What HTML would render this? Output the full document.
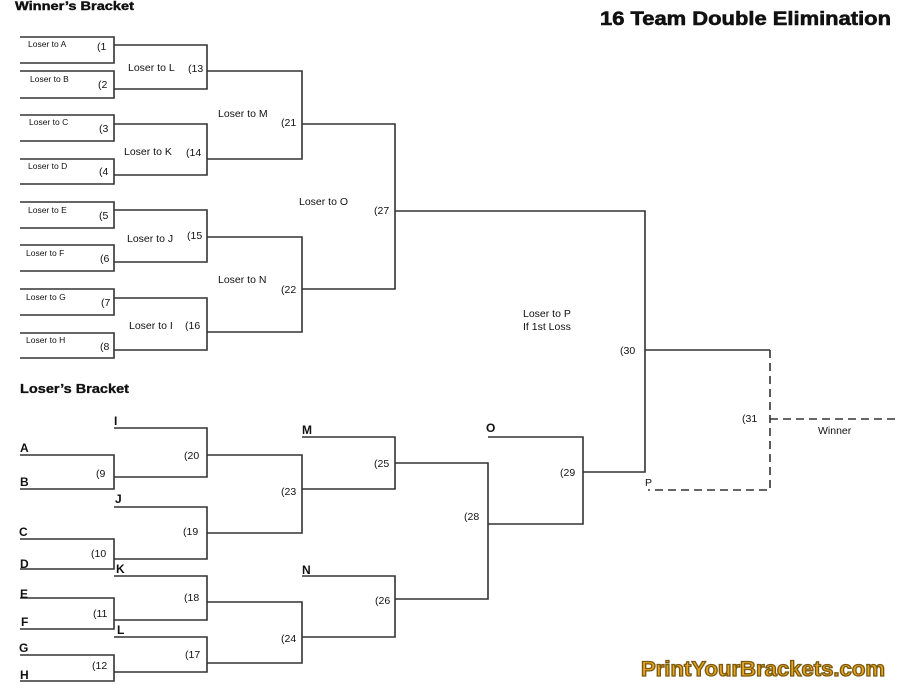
<!DOCTYPE html>
<html><head><meta charset="utf-8"><style>
html,body{margin:0;padding:0;background:#fff;}
svg{display:block;}
text{font-family:"Liberation Sans",Arial,sans-serif;fill:#111;}
.s{font-size:8.5px;}
.m{font-size:10.5px;}
.b{font-size:12px;font-weight:bold;}
</style></head><body>
<svg width="900" height="700" viewBox="0 0 900 700" xmlns="http://www.w3.org/2000/svg">
<g stroke="#333" stroke-width="1.6" fill="none">
<path d="M20 37H114V63H20 M20 71H114V98H20 M20 115H114V141H20 M20 159H114V184H20 M20 202H114V228H20 M20 245H114V271H20 M20 289H114V315H20 M20 333H114V358H20"/>
<path d="M114 45H207V89H114 M114 124H207V175H114 M114 210H207V262H114 M114 298H207V350H114"/>
<path d="M207 71H302V159H207 M207 237H302V332H207"/>
<path d="M302 124H395V289H302 M395 211H645V472H583"/>
<path d="M645 350H770"/>
<path d="M114 428H207V477H114 M20 455H114V489H20"/>
<path d="M207 455H302V533H207"/>
<path d="M114 507H207V559H114 M20 539H114V569H20"/>
<path d="M114 576H207V620H114 M20 598H114V629H20"/>
<path d="M114 637H207V672H114 M20 655H114V681H20"/>
<path d="M207 602H302V663H207"/>
<path d="M302 437H395V489H302 M302 576H395V637H302"/>
<path d="M395 463H488V599H395 M488 524H583V437H488"/>
</g>
<g stroke="#333" stroke-width="1.6" fill="none" stroke-dasharray="8,5">
<path d="M770 350V490H648"/>
<path d="M770 419H895"/>
</g>
<text x="15" y="10" class="b" style="font-size:11.5px;stroke:#111;stroke-width:0.4px" textLength="119" lengthAdjust="spacingAndGlyphs">Winner’s Bracket</text>
<text x="600" y="25" style="font-size:19px;font-weight:bold;stroke:#111;stroke-width:0.6px" textLength="291" lengthAdjust="spacingAndGlyphs">16 Team Double Elimination</text>
<text x="20" y="393" class="b" style="font-size:12.5px;stroke:#111;stroke-width:0.3px" textLength="109" lengthAdjust="spacingAndGlyphs">Loser’s Bracket</text>
<g class="s">
<text x="28" y="47">Loser to A</text><text x="30" y="82">Loser to B</text>
<text x="29" y="125">Loser to C</text><text x="28" y="169">Loser to D</text>
<text x="28" y="213">Loser to E</text><text x="26" y="256">Loser to F</text>
<text x="26" y="300">Loser to G</text><text x="26" y="343">Loser to H</text>
</g>
<g class="m">
<text x="97" y="50">(1</text><text x="98" y="88">(2</text><text x="99" y="132">(3</text><text x="99" y="175">(4</text>
<text x="99" y="219">(5</text><text x="100" y="262">(6</text><text x="101" y="306">(7</text><text x="100" y="350">(8</text>
<text x="128" y="71">Loser to L</text><text x="188" y="72">(13</text>
<text x="124" y="155">Loser to K</text><text x="186" y="156">(14</text>
<text x="127" y="242">Loser to J</text><text x="187" y="239">(15</text>
<text x="129" y="329">Loser to I</text><text x="185" y="329">(16</text>
<text x="218" y="117">Loser to M</text><text x="281" y="126">(21</text>
<text x="218" y="283">Loser to N</text><text x="281" y="293">(22</text>
<text x="299" y="205">Loser to O</text><text x="374" y="214">(27</text>
<text x="523" y="317">Loser to P</text><text x="523" y="330">If 1st Loss</text>
<text x="620" y="354">(30</text><text x="742" y="422">(31</text>
<text x="818" y="434">Winner</text><text x="645" y="486">P</text>
<text x="96" y="477">(9</text><text x="184" y="459">(20</text>
<text x="91" y="557">(10</text><text x="183" y="535">(19</text>
<text x="93" y="617">(11</text><text x="184" y="601">(18</text>
<text x="92" y="669">(12</text><text x="185" y="658">(17</text>
<text x="281" y="495">(23</text><text x="281" y="642">(24</text>
<text x="374" y="467">(25</text><text x="375" y="604">(26</text>
<text x="464" y="520">(28</text><text x="560" y="476">(29</text>
</g>
<g class="b">
<text x="114" y="425">I</text><text x="20" y="452">A</text><text x="20" y="486">B</text>
<text x="115" y="503">J</text><text x="19" y="536">C</text><text x="20" y="568">D</text>
<text x="116" y="573">K</text><text x="20" y="598">E</text><text x="21" y="626">F</text>
<text x="117" y="634">L</text><text x="19" y="652">G</text><text x="20" y="679">H</text>
<text x="302" y="434">M</text><text x="302" y="574">N</text><text x="486" y="432">O</text>
</g>
<text x="641" y="676" style="font-size:21px;font-weight:900;fill:#e8a520;stroke:#7a5a10;stroke-width:1.3px" textLength="244" lengthAdjust="spacingAndGlyphs">PrintYourBrackets.com</text>
</svg>
</body></html>
